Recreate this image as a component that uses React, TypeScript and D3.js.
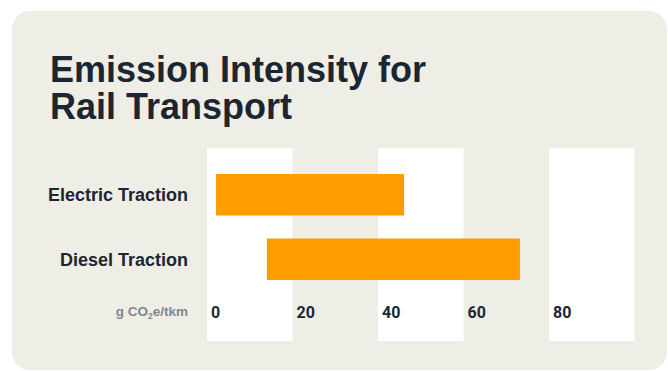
import React from "react";
import * as d3 from "d3";

const titleLines = ["Emission Intensity for", "Rail Transport"];
const categories = ["Electric Traction", "Diesel Traction"];
const minValues = [2.1, 14];
const maxValues = [46.1, 73.2];
const tickValues = [0, 20, 40, 60, 80];
const bandStarts = [0, 40, 80];
const bandSpan = 20;

const W = 668;
const H = 371;

export default function App() {
  const x = d3.scaleLinear().domain([0, 100]).range([207, 634.5]);
  const y = d3
    .scaleBand<string>()
    .domain(categories)
    .range([162.5, 291.5])
    .paddingInner(0.3566)
    .paddingOuter(0.1783);
  const dark = "#1c2632";
  return (
    <svg
      width={W}
      height={H}
      style={{ position: "absolute", left: 0, top: 0 }}
    >
      <rect x={0} y={0} width={W} height={H} fill="#ffffff" />
      <rect x={12} y={11} width={655} height={359} rx={18} fill="#efeee6" />
      {titleLines.map((t, i) => (
        <text
          key={t}
          x={50}
          y={82 + i * 37}
          fontFamily="'Liberation Sans', Arial, sans-serif"
          fontWeight={700}
          fontSize={36}
          fill={dark}
        >
          {t}
        </text>
      ))}
      {bandStarts.map((b) => (
        <rect
          key={b}
          x={x(b)}
          y={148}
          width={x(b + bandSpan) - x(b)}
          height={193}
          fill="#ffffff"
        />
      ))}
      {categories.map((c, i) => (
        <g key={c}>
          <rect
            x={x(minValues[i])}
            y={y(c)}
            width={x(maxValues[i]) - x(minValues[i])}
            height={y.bandwidth()}
            fill="#ff9c00"
          />
          <text
            x={188}
            y={(y(c) as number) + y.bandwidth() / 2}
            dy="0.35em"
            textAnchor="end"
            fontFamily="'Liberation Sans', Arial, sans-serif"
            fontWeight={700}
            fontSize={18}
            fill={dark}
          >
            {c}
          </text>
        </g>
      ))}
      <text
        x={188}
        y={315.5}
        textAnchor="end"
        fontFamily="'Liberation Sans', Arial, sans-serif"
        fontWeight={700}
        fontSize={13.5}
        fill="#7d8795"
      >
        g CO
        <tspan fontSize={8.5} dy={3}>
          2
        </tspan>
        <tspan dy={-3}>e/tkm</tspan>
      </text>
      {tickValues.map((v) => (
        <text
          key={v}
          x={x(v) + 4}
          y={318.3}
          fontFamily="Roboto, sans-serif"
          fontWeight={700}
          fontSize={16}
          fill={dark}
        >
          {v}
        </text>
      ))}
    </svg>
  );
}
